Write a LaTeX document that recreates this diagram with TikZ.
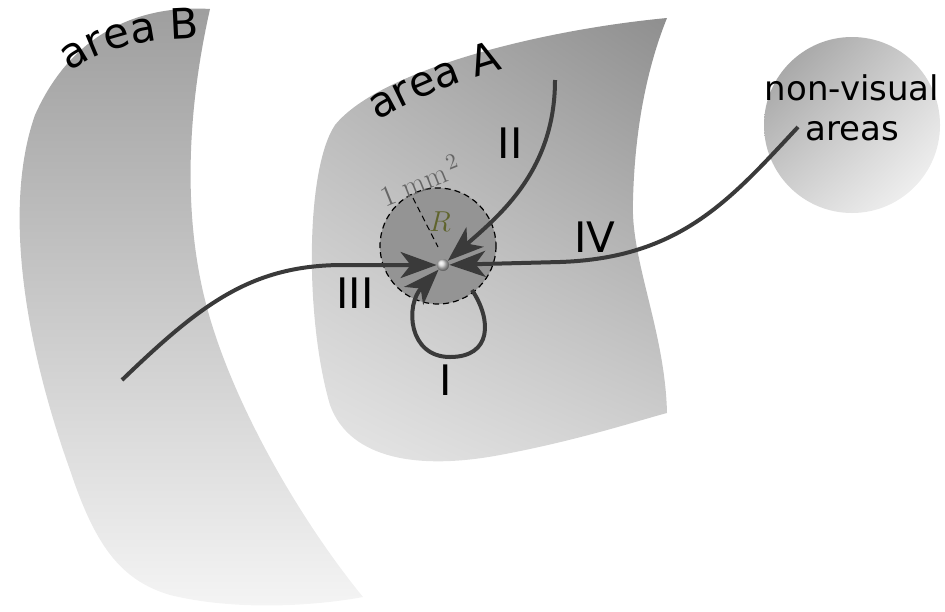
\documentclass[tikz,border=0pt]{standalone}
\usepackage{fontspec}
\newfontfamily\labelfont{DejaVu Sans}
\usetikzlibrary{arrows.meta,positioning,decorations.text,shadings}
\definecolor{arrowgray}{RGB}{58,58,58}
\definecolor{radiusgreen}{RGB}{95,100,45}

\begin{document}
\begin{tikzpicture}[x=0.5pt,y=-0.5pt,
  pathway/.style={draw=arrowgray, line width=2pt, -{Stealth[length=18pt,width=13pt,inset=5pt]}},
  tag/.style={font=\labelfont\fontsize{21}{21}\selectfont, text=black},
]
  \useasboundingbox (0,0) rectangle (945,611);
  % area B
  \shade[top color=black!38, bottom color=black!4]
    (210,9) .. controls (150,5) and (75,25) .. (35,115)
    .. controls (5,200) and (20,330) .. (70,470)
    .. controls (95,545) and (120,580) .. (170,595)
    .. controls (240,612) and (320,605) .. (363,597)
    .. controls (300,520) and (230,400) .. (205,300)
    .. controls (185,220) and (185,120) .. (210,9) -- cycle;
  % area A
  \shade[upper right=black!44, upper left=black!30, lower left=black!9, lower right=black!17]
    (667,18) .. controls (540,30) and (380,70) .. (335,125)
    .. controls (305,170) and (305,320) .. (330,405)
    .. controls (350,460) and (420,470) .. (500,455)
    .. controls (580,440) and (640,420) .. (667,413)
    .. controls (665,330) and (630,260) .. (633,200)
    .. controls (635,120) and (650,60) .. (667,18) -- cycle;
  % non-visual areas
  \shade[upper left=black!40, upper right=black!18, lower left=black!18, lower right=black!2]
    (852,125) circle[radius=88];
  \node[font=\labelfont\fontsize{17}{20}\selectfont, align=center] (nonvis) at (852,108) {non-visual\\areas};
  % 1 mm^2 patch
  \fill[black!42] (438,246) circle[radius=58];
  \draw[densely dashed, line width=0.6pt] (438,246) circle[radius=58];
  \draw[densely dashed, line width=0.5pt] (413,198) -- (438,247);
  \node[rotate=22, text=black!60, font=\fontsize{15}{15}\selectfont] (areasize) at (420,180) {$1\ \mathrm{mm}^{\,2}$};
  \node[text=radiusgreen, font=\fontsize{15}{15}\selectfont] (radius) at (440,222) {$R$};
  % target point
  \node[circle, inner sep=0pt, minimum size=6pt, ball color=black!15] (ctr) at (443,265) {};
  \coordinate (startI) at (472,290);
  \coordinate (startII) at (555,80);
  \coordinate (startIII) at (122,380);
  \coordinate (startIV) at (798,127);
  % pathways
  \draw[pathway] (startIII) .. controls (200,305) and (250,266) .. (340,265) -- (ctr);
  \draw[pathway] (startIV) .. controls (730,200) and (680,258) .. (560,262) -- (ctr);
  \draw[pathway] (startII) .. controls (555,170) and (500,215) .. (ctr);
  \draw[pathway] (startI) .. controls (492,320) and (492,357) .. (450,357)
    .. controls (408,357) and (405,305) .. (ctr);
  % labels
  \node[tag] (labI) at (446,380) {I};
  \node[tag] (labII) at (510,143) {II};
  \node[tag] (labIII) at (355,293) {III};
  \node[tag] (labIV) at (595,237) {IV};
  \path[decorate, decoration={text along path, text align=center,
    text={|\labelfont\fontsize{21}{21}\selectfont|area B}}]
    (60,80) .. controls (95,50) and (140,38) .. (212,38);
  \path[decorate, decoration={text along path, text align=center,
    text={|\labelfont\fontsize{21}{21}\selectfont|area A}}]
    (362,130) .. controls (410,100) and (460,80) .. (520,64);
\end{tikzpicture}
\end{document}
